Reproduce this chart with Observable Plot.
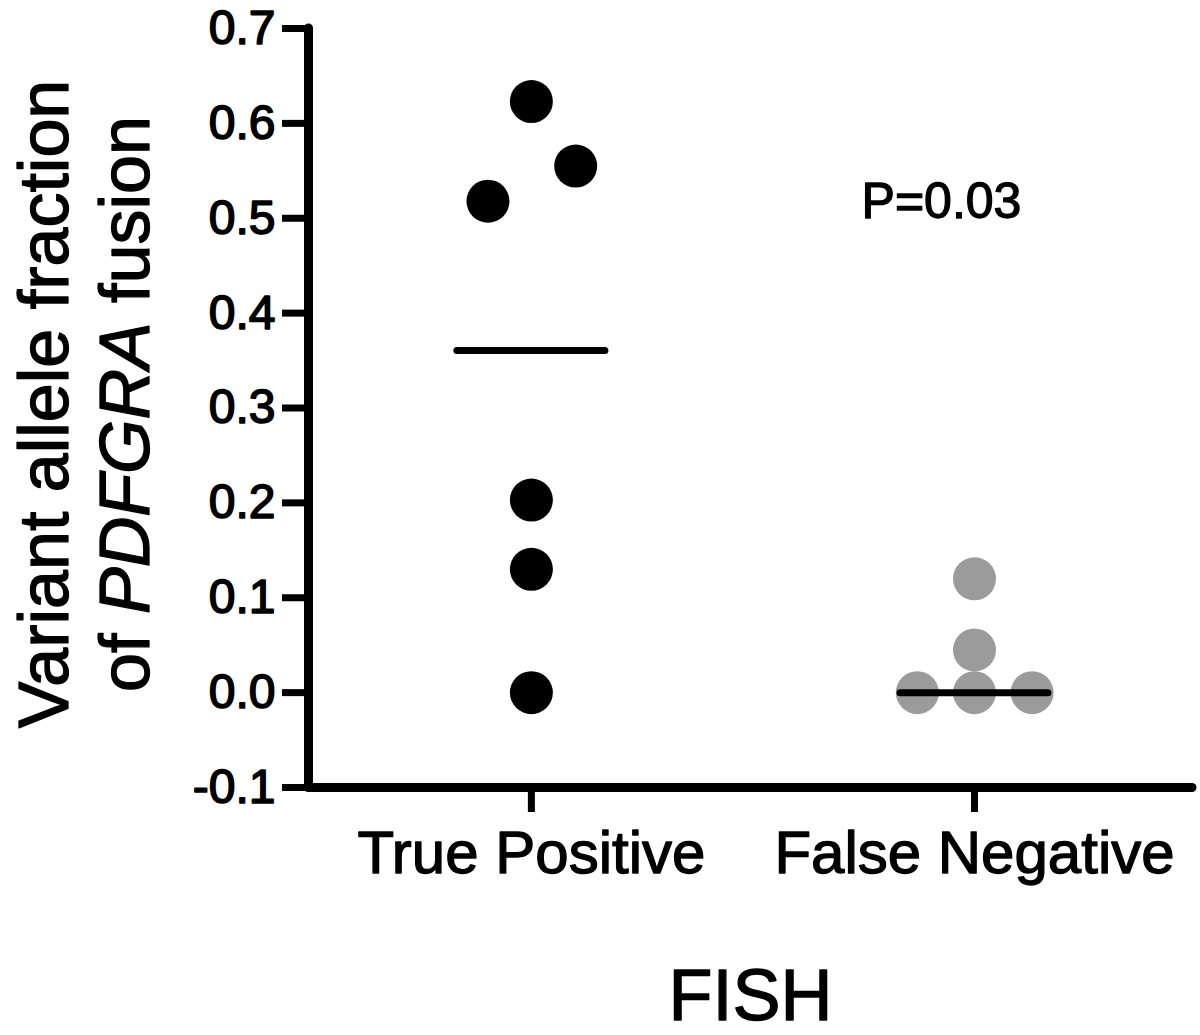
<!DOCTYPE html>
<html>
<head>
<meta charset="utf-8">
<script src="https://cdn.jsdelivr.net/npm/d3@7"></script>
<script src="https://cdn.jsdelivr.net/npm/@observablehq/plot@0.6"></script>
<style>
  body { margin: 0; background: #fff; }
  svg { display: block; }
  svg text { stroke: #000; stroke-width: 1.3px; paint-order: stroke; stroke-linejoin: round; }
  svg text.ticklab { stroke-width: 1.6px; }
</style>
</head>
<body>
<div id="chart"></div>
<script>
// ---- data ----
const categories = ["True Positive", "False Negative"];
const truePositive = [0.623, 0.555, 0.518, 0.203, 0.13, 0.0];
const truePositiveSpread = [0, 0.1, -0.098, 0, 0, 0];      // horizontal scatter (category units)
const falseNegative = [0.12, 0.045, 0.0, 0.0, 0.0];
const falseNegativeSpread = [0, 0, -0.129, 0, 0.13];
const yTicks = [-0.1, 0.0, 0.1, 0.2, 0.3, 0.4, 0.5, 0.6, 0.7];
const yTitleLine1 = "Variant allele fraction";
const yTitleLine2 = ["of ", "PDFGRA", " fusion"];
const xTitle = "FISH";
const pValueLabel = "P=0.03";

// ---- derived tables ----
const tpRows = truePositive.map((v, i) => ({group: 0, value: v, spread: truePositiveSpread[i]}));
const fnRows = falseNegative.map((v, i) => ({group: 1, value: v, spread: falseNegativeSpread[i]}));
const medians = [
  {group: 0, median: d3.median(truePositive)},
  {group: 1, median: d3.median(falseNegative)}
];

const xDomain = [-0.503, 1.492];
const font = "'Liberation Sans', Arial, Helvetica, sans-serif";

const chart = Plot.plot({
  width: 1200,
  height: 1035,
  marginTop: 28,
  marginBottom: 248,
  marginLeft: 308,
  marginRight: 8,
  style: {fontFamily: font, background: "#fff", color: "#000"},
  x: {domain: xDomain},
  y: {domain: [-0.1, 0.7]},
  marks: [
    Plot.axisY({ticks: yTicks, tickFormat: d => d.toFixed(1), tickSize: 26, tickPadding: 7,
                fontSize: 48, strokeWidth: 7, label: null}),
    Plot.axisX({ticks: [0, 1], tickFormat: i => categories[i], tickSize: 25, tickPadding: 18,
                fontSize: 60, strokeWidth: 7, label: null}),
    Plot.ruleX([xDomain[0]], {strokeWidth: 9, strokeLinecap: "round"}),
    Plot.ruleY([-0.1], {strokeWidth: 9, strokeLinecap: "round"}),
    Plot.dot(tpRows, {x: d => d.group + d.spread, y: "value", r: 21.5, fill: "#000", stroke: null}),
    Plot.dot(fnRows, {x: d => d.group + d.spread, y: "value", r: 21.5, fill: "#9b9b9b", stroke: null}),
    Plot.ruleY(medians, {y: "median", x1: d => d.group - 0.167, x2: d => d.group + 0.167,
                         strokeWidth: 7, strokeLinecap: "round"}),
    Plot.text([pValueLabel], {x: () => 1, y: () => 0.5, text: d => d, dx: -33,
                              lineAnchor: "bottom", fontSize: 50}),
    Plot.text([xTitle], {frameAnchor: "bottom", text: d => d, dy: 232, lineAnchor: "bottom", fontSize: 72})
  ]
});

document.getElementById("chart").appendChild(chart);

// slightly heavier y tick labels (as in the reference)
d3.select(chart).selectAll("g[aria-label='y-axis tick label'] text").classed("ticklab", true);

// rotated two-line y-axis title (with italic gene name)
const svg = d3.select(chart);
const cy = 404;
svg.append("text")
  .attr("transform", `translate(68,${cy}) rotate(-90)`)
  .attr("text-anchor", "middle")
  .attr("font-family", font)
  .attr("font-size", 70)
  .attr("fill", "#000")
  .text(yTitleLine1);
const t2 = svg.append("text")
  .attr("transform", `translate(149,${cy}) rotate(-90)`)
  .attr("text-anchor", "middle")
  .attr("font-family", font)
  .attr("font-size", 70)
  .attr("fill", "#000");
t2.append("tspan").text(yTitleLine2[0]);
t2.append("tspan").attr("font-style", "italic").text(yTitleLine2[1]);
t2.append("tspan").text(yTitleLine2[2]);
</script>
</body>
</html>
